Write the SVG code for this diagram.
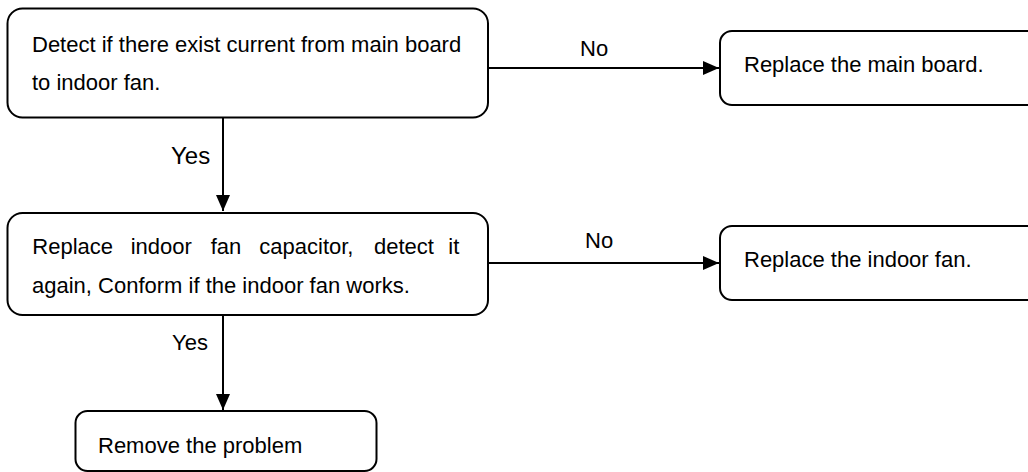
<svg xmlns="http://www.w3.org/2000/svg" width="1028" height="472" viewBox="0 0 1028 472">
<defs>
<style>
.box{fill:#fff;stroke:#000;stroke-width:2}
.t{font-family:"Liberation Sans",Arial,sans-serif;font-size:22px;fill:#000}
.c{fill:none;stroke:#000;stroke-width:2}
</style>
<marker id="ah" markerUnits="userSpaceOnUse" markerWidth="16" markerHeight="14" refX="16" refY="7" orient="auto">
<path d="M0,0 L16,7 L0,14 Z" fill="#000"/>
</marker>
</defs>
<rect width="1028" height="472" fill="#fff"/>
<g id="connectors">
<line class="c" x1="488" y1="68" x2="719" y2="68" marker-end="url(#ah)"/>
<text class="t" x="580" y="56">No</text>
<line class="c" x1="223" y1="118" x2="223" y2="211" marker-end="url(#ah)"/>
<text class="t" x="171" y="164" style="font-size:24px">Yes</text>
<line class="c" x1="488" y1="263" x2="719" y2="263" marker-end="url(#ah)"/>
<text class="t" x="585" y="248">No</text>
<line class="c" x1="223" y1="315" x2="223" y2="410" marker-end="url(#ah)"/>
<text class="t" x="172" y="350">Yes</text>
</g>
<g id="node-detect">
<rect class="box" x="7.5" y="8.5" width="480.5" height="109" rx="15"/>
<text class="t" x="32" y="52">Detect if there exist current from main board</text>
<text class="t" x="32" y="90">to indoor fan.</text>
</g>
<g id="node-replace-board">
<rect class="box" x="720" y="31" width="330" height="74" rx="12"/>
<text class="t" x="744" y="72">Replace the main board.</text>
</g>
<g id="node-capacitor">
<rect class="box" x="7.5" y="213" width="480.5" height="102" rx="15"/>
<text class="t" y="254"><tspan x="32.3">Replace</tspan><tspan x="130.7">indoor</tspan><tspan x="210.7">fan</tspan><tspan x="259.3">capacitor,</tspan><tspan x="374">detect</tspan><tspan x="448.3">it</tspan></text>
<text class="t" x="32" y="292.5">again, Conform if the indoor fan works.</text>
</g>
<g id="node-replace-fan">
<rect class="box" x="720" y="226" width="330" height="74" rx="12"/>
<text class="t" x="744" y="267">Replace the indoor fan.</text>
</g>
<g id="node-remove">
<rect class="box" x="75.5" y="411" width="301" height="60" rx="12"/>
<text class="t" x="98" y="453">Remove the problem</text>
</g>
</svg>
